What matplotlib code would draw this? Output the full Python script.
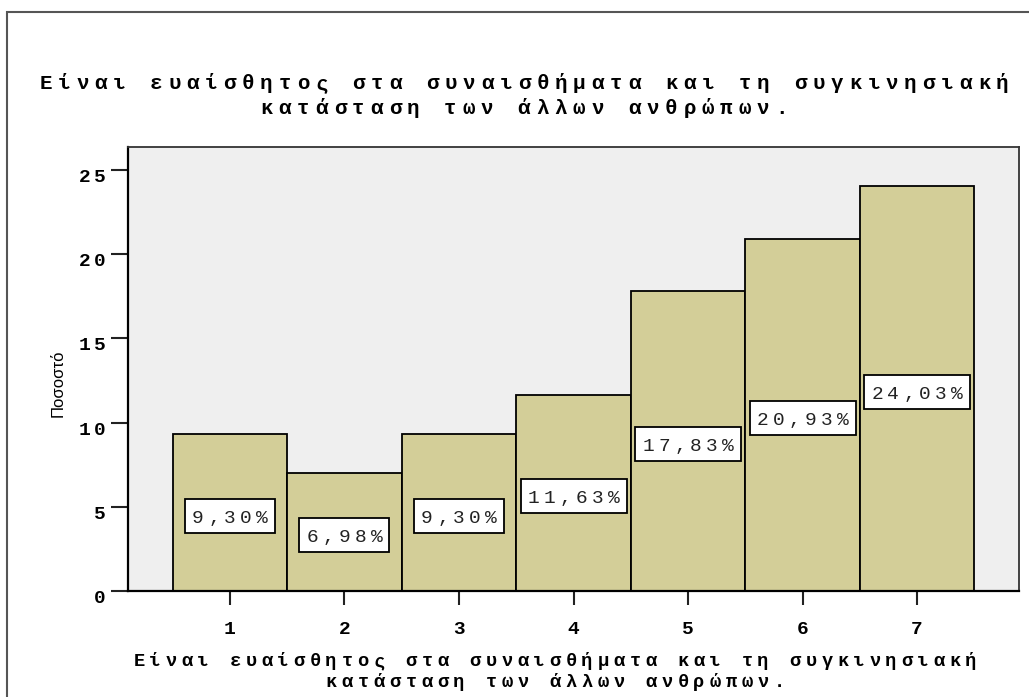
import matplotlib.pyplot as plt
import matplotlib.transforms as mtransforms
from matplotlib.patches import Rectangle

# percentages per answer category
categories = [1, 2, 3, 4, 5, 6, 7]
percent = [9.30, 6.98, 9.30, 11.63, 17.83, 20.93, 24.03]
y_ticks = [0, 5, 10, 15, 20, 25]
title_lines = ["Είναι ευαίσθητος στα συναισθήματα και τη συγκινησιακή",
               "κατάσταση των άλλων ανθρώπων."]
xlabel_lines = title_lines
ylabel = "Ποσοστό"

W, H = 1029, 697
MONO = "Liberation Mono"

fig = plt.figure(figsize=(W / 100, H / 100), dpi=100)
fig.patch.set_facecolor("white")

# plot area in pixel terms: left 128, right 1019, top 147, bottom 591
ax = fig.add_axes([128 / W, 1 - 591 / H, (1019 - 128) / W, (591 - 147) / H])
ax.set_facecolor("#efefef")
ax.set_xlim(0.11, 7.89)
ax.set_ylim(0, 26.37)

ax.bar(categories, percent, width=1.0, color="#d3ce98", edgecolor="black",
       linewidth=1.3, zorder=2)

for side in ["left", "bottom"]:
    ax.spines[side].set_linewidth(1.6)
    ax.spines[side].set_color("black")
for side in ["top", "right"]:
    ax.spines[side].set_linewidth(1.3)
    ax.spines[side].set_color("#333333")

ax.set_xticks(categories)
ax.set_xticklabels([])
ax.set_yticks(y_ticks)
ax.set_yticklabels([])
ax.tick_params(axis="y", length=12, width=1.5, color="#222222")
ax.tick_params(axis="x", length=10, width=1.5, color="#222222")


def spaced(x, y, s, pitch, trans, ha="center", dy=0, **kw):
    # lay out characters one by one at a fixed pitch (pixels)
    n = len(s)
    if ha == "center":
        start = -(n - 1) / 2 * pitch
    elif ha == "right":
        start = -(n - 1) * pitch
    else:
        start = 0
    for i, ch in enumerate(s):
        if ch == " ":
            continue
        t = mtransforms.offset_copy(trans, fig=fig, x=start + i * pitch,
                                    y=dy, units="dots")
        fig.text(x, y, ch, transform=t, ha="center", va="baseline", **kw)


def fig_xy(px, py):
    return px / W, 1 - py / H


# title
for line, base in zip(title_lines, [89, 114]):
    x, y = fig_xy(524, base)
    spaced(x, y, line, 18.4, fig.transFigure, fontsize=15,
           fontweight="bold", family=MONO, color="black")

# x axis title
for line, base in zip(xlabel_lines, [666, 687]):
    x, y = fig_xy(555, base)
    spaced(x, y, line, 16, fig.transFigure, fontsize=13.5,
           fontweight="bold", family=MONO, color="black")

# y tick labels
for v in y_ticks:
    spaced(0, v, str(v), 15, mtransforms.offset_copy(
        mtransforms.blended_transform_factory(fig.transFigure, ax.transData),
        fig=fig, x=100, y=0, units="dots"),
        ha="right", dy=-12, fontsize=14, fontweight="bold", family=MONO)

# x tick labels
for c in categories:
    spaced(c, 0, str(c), 15, mtransforms.offset_copy(
        ax.transData, fig=fig, x=0, y=0, units="dots"),
        dy=-43, fontsize=14, fontweight="bold", family=MONO)

# y axis label
x, y = fig_xy(58, 383)
fig.text(x, y, ylabel, rotation=90, ha="center", va="center",
         fontsize=12, family="Liberation Sans")

# value boxes
sx = ax.bbox.width / (ax.get_xlim()[1] - ax.get_xlim()[0])
sy = ax.bbox.height / (ax.get_ylim()[1] - ax.get_ylim()[0])
for c, v in zip(categories, percent):
    label = f"{v:.2f}".replace(".", ",") + "%"
    yc = v / 2 - 0.17
    bw = 16 * len(label) + 10
    bh = 34
    ax.add_patch(Rectangle((c - bw / 2 / sx, yc - bh / 2 / sy), bw / sx, bh / sy,
                           facecolor="white", edgecolor="black", linewidth=1.3,
                           zorder=3))
    spaced(c, yc, label, 16, ax.transData, dy=-7, fontsize=14,
           family=MONO, color="#222222", zorder=4)

# outer frame running off the right and bottom edges
fig.add_artist(Rectangle((7 / W, -0.1), 1.2, 1 - 12 / H + 0.1,
                         transform=fig.transFigure, fill=False,
                         edgecolor="#555555", linewidth=1.5, clip_on=False))

fig.savefig("out.png", dpi=100)
